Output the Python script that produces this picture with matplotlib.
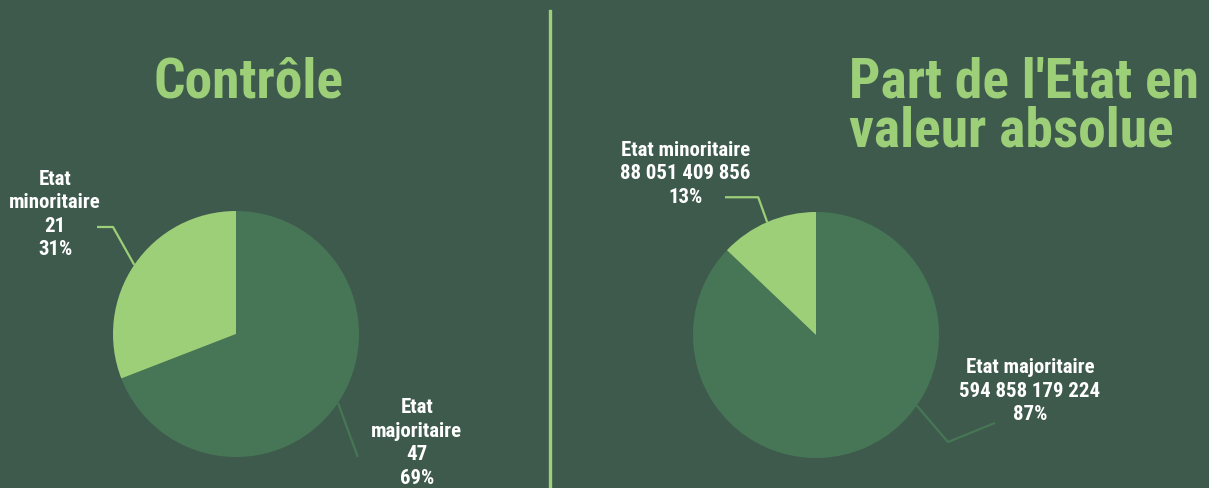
import numpy as np
import matplotlib
matplotlib.use("Agg")
import matplotlib.pyplot as plt
from matplotlib import font_manager

# Data
labels = ["Etat majoritaire", "Etat minoritaire"]
controle_counts = [47, 21]
controle_pct = [69, 31]
valeur_abs = [594858179224, 88051409856]
valeur_pct = [87, 13]

BG = "#3e5a4c"
DARK = "#477656"
LIGHT = "#9ccf78"

# pick a condensed bold face if one is around
names = {f.name for f in font_manager.fontManager.ttflist}
for fam in ["Roboto Condensed", "Liberation Sans Narrow", "Roboto", "DejaVu Sans"]:
    if fam in names:
        FONT = fam
        break

W, H = 1209, 489
fig = plt.figure(figsize=(W / 100, H / 100), dpi=100, facecolor=BG)


def pie_axes(cx, cy, r):
    # axes box in pixels (top-left origin) -> figure fraction
    return fig.add_axes([(cx - r) / W, (H - cy - r) / H, 2 * r / W, 2 * r / H])


def fmt_num(v):
    return f"{v:,}".replace(",", " ")


def draw_pie(ax, values):
    ax.pie(values, colors=[DARK, LIGHT], startangle=90, counterclock=False,
           wedgeprops=dict(linewidth=0))
    ax.set_xlim(-1, 1)
    ax.set_ylim(-1, 1)
    ax.set_facecolor(BG)


def leader(ax, pts, color):
    xs, ys = zip(*pts)
    ax.plot(xs, ys, color=color, lw=1.6, clip_on=False, solid_capstyle="butt")


def edge(deg):
    a = np.deg2rad(deg)
    return (np.cos(a), np.sin(a))


txt = dict(color="white", fontsize=15, fontweight="bold", family=[FONT, "DejaVu Sans"],
           ha="center", va="center", linespacing=1.3)

# ---- Contrôle
ax1 = pie_axes(236, 335, 123)
draw_pie(ax1, controle_counts)
mid_min = 90 + 360 * controle_pct[1] / 100 / 2
leader(ax1, [(-1.13, 0.87), (-1.0, 0.87), edge(mid_min)], LIGHT)
leader(ax1, [edge(-34), (0.99, -1.0)], DARK)
ax1.text(-1.47, 0.98, "Etat\nminoritaire\n%d\n%d%%" % (controle_counts[1], controle_pct[1]),
         clip_on=False, **txt)
ax1.text(1.47, -0.88, "Etat\nmajoritaire\n%d\n%d%%" % (controle_counts[0], controle_pct[0]),
         clip_on=False, **txt)

# ---- Part de l'Etat en valeur absolue
ax2 = pie_axes(816, 336, 123)
draw_pie(ax2, valeur_abs)
mid_min2 = 90 + 360 * valeur_pct[1] / 100 / 2
leader(ax2, [(-0.74, 1.12), (-0.47, 1.12), edge(mid_min2)], LIGHT)
leader(ax2, [edge(-35), (1.073, -0.87), (1.455, -0.715)], DARK)
ax2.text(-1.06, 1.32, "%s\n%s\n%d%%" % (labels[1], fmt_num(valeur_abs[1]), valeur_pct[1]),
         clip_on=False, **txt)
ax2.text(1.74, -0.45, "%s\n%s\n%d%%" % (labels[0], fmt_num(valeur_abs[0]), valeur_pct[0]),
         clip_on=False, **txt)

# titles
title = dict(color=LIGHT, fontsize=40, fontweight="bold", family=[FONT, "DejaVu Sans"])
fig.text(249 / W, 1 - 82 / H, "Contrôle", ha="center", va="center", **title)
fig.text(849 / W, 1 - 56 / H, "Part de l'Etat en\nvaleur absolue", ha="left", va="top",
         linespacing=0.95, **title)

# divider
fig.add_artist(plt.Line2D([550 / W, 550 / W], [0, 1 - 12 / H], color=LIGHT, lw=2.4,
                          transform=fig.transFigure))

fig.savefig("out.png", dpi=100, facecolor=BG)
